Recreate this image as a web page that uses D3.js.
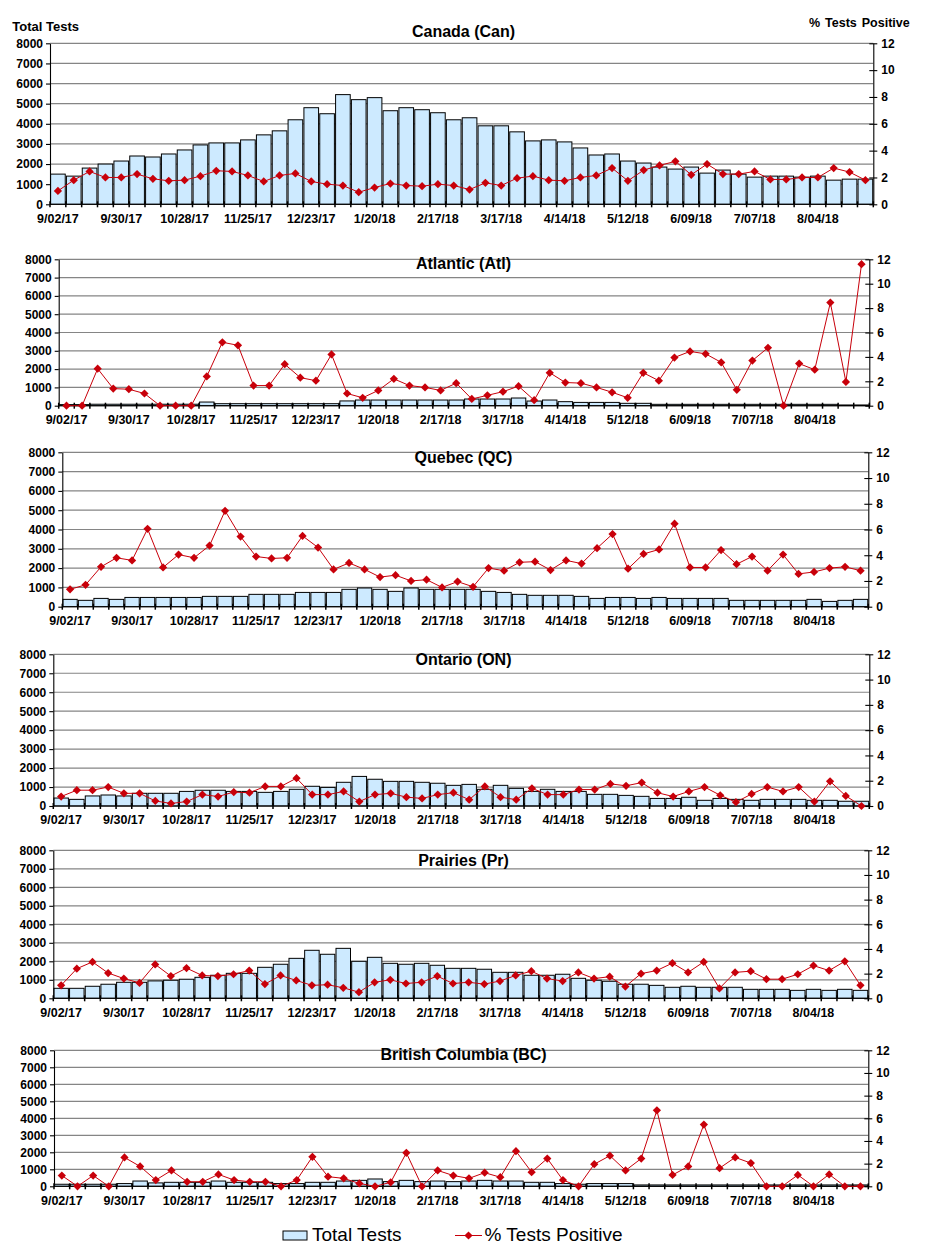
<!DOCTYPE html>
<html><head><meta charset="utf-8">
<script src="https://cdn.jsdelivr.net/npm/d3@7/dist/d3.min.js"></script>
<style>
html,body{margin:0;padding:0;background:#fff;}
svg text{font-family:"Liberation Sans",Arial,Helvetica,sans-serif;fill:#000;}
</style></head><body>
<svg id="chart" width="926" height="1257"></svg>
<script>
// ---------- DATA ----------
const categories = ["9/02/17","9/09/17","9/16/17","9/23/17","9/30/17","10/07/17","10/14/17","10/21/17","10/28/17","11/04/17","11/11/17","11/18/17","11/25/17","12/02/17","12/09/17","12/16/17","12/23/17","12/30/17","1/06/18","1/13/18","1/20/18","1/27/18","2/03/18","2/10/18","2/17/18","2/24/18","3/03/18","3/10/18","3/17/18","3/24/18","3/31/18","4/07/18","4/14/18","4/21/18","4/28/18","5/05/18","5/12/18","5/19/18","5/26/18","6/02/18","6/09/18","6/16/18","6/23/18","6/30/18","7/07/18","7/14/18","7/21/18","7/28/18","8/04/18","8/11/18","8/18/18","8/25/18"];
const shownLabels = ["9/02/17","9/30/17","10/28/17","11/25/17","12/23/17","1/20/18","2/17/18","3/17/18","4/14/18","5/12/18","6/09/18","7/07/18","8/04/18"];
const testTicks = [0,1000,2000,3000,4000,5000,6000,7000,8000];
const pctTicks = [0,2,4,6,8,10,12];
const panelTitles = ["Canada (Can)","Atlantic (Atl)","Quebec (QC)","Ontario (ON)","Prairies (Pr)","British Columbia (BC)"];
const seriesNames = ["Total Tests","% Tests Positive"];

const canTests = [1500,1400,1800,2000,2150,2400,2350,2500,2700,2950,3050,3050,3200,3450,3650,4200,4800,4500,5450,5200,5300,4650,4800,4700,4550,4200,4300,3900,3900,3600,3150,3200,3100,2800,2450,2500,2150,2050,1850,1750,1850,1550,1700,1500,1350,1400,1400,1350,1400,1200,1250,1250];
const canPct = [1.0,1.8,2.45,2.0,2.0,2.25,1.9,1.75,1.8,2.1,2.5,2.45,2.15,1.7,2.15,2.3,1.7,1.5,1.4,0.9,1.25,1.55,1.4,1.35,1.5,1.4,1.1,1.6,1.4,1.95,2.1,1.8,1.75,2.0,2.15,2.7,1.75,2.55,2.9,3.2,2.2,3.0,2.25,2.25,2.45,1.85,1.85,2.0,2.0,2.7,2.4,1.8];

const atlTests = [60,60,80,80,80,80,80,80,80,200,110,110,110,110,110,110,110,110,260,310,310,310,310,310,310,310,365,365,365,420,255,310,220,180,180,180,130,130,75,75,75,75,75,75,75,75,75,75,75,75,40,40];
const atlPct = [0,0,3.03,1.4,1.35,1.0,0,0,0,2.4,5.2,4.95,1.65,1.65,3.4,2.3,2.05,4.2,1.0,0.65,1.25,2.2,1.65,1.5,1.25,1.85,0.55,0.85,1.15,1.6,0.45,2.7,1.9,1.85,1.5,1.1,0.65,2.7,2.05,3.95,4.45,4.25,3.55,1.3,3.7,4.75,0,3.45,2.95,8.45,1.95,11.6];

const qcTests = [380,330,430,380,480,480,480,480,480,535,535,535,640,640,640,740,740,740,900,970,900,795,970,900,900,900,900,795,740,640,590,590,590,535,430,480,480,430,480,430,430,430,430,330,330,330,330,330,380,275,330,380];
const qcPct = [1.35,1.7,3.1,3.8,3.6,6.05,3.05,4.05,3.8,4.75,7.45,5.45,3.9,3.75,3.8,5.5,4.6,2.9,3.4,2.9,2.3,2.45,2.0,2.1,1.5,1.95,1.55,3.0,2.8,3.45,3.5,2.85,3.6,3.35,4.55,5.65,2.95,4.1,4.45,6.45,3.05,3.05,4.4,3.3,3.9,2.8,4.05,2.55,2.7,3.0,3.1,2.8];

const onTests = [420,350,530,580,530,670,670,670,770,830,830,770,770,720,770,880,1040,980,1250,1560,1410,1300,1300,1250,1200,1090,1140,880,1090,930,770,880,770,770,615,615,560,510,400,400,460,300,400,350,300,350,350,350,300,300,250,250];
const onPct = [0.75,1.25,1.25,1.5,1.0,1.0,0.4,0.2,0.35,0.9,0.75,1.1,1.05,1.55,1.55,2.2,0.9,0.9,1.15,0.35,0.9,1.0,0.7,0.6,0.9,1.05,0.5,1.55,0.7,0.5,1.4,0.9,0.9,1.3,1.3,1.75,1.6,1.85,1.05,0.75,1.15,1.5,0.85,0.3,0.95,1.5,1.15,1.5,0.35,1.95,0.8,0];

const prTests = [540,540,650,760,865,865,940,975,1030,1135,1245,1350,1350,1675,1840,2160,2595,2380,2700,2000,2215,1890,1840,1890,1785,1620,1620,1570,1405,1405,1245,1245,1300,1080,975,920,760,760,700,595,650,595,595,595,485,485,485,430,485,430,485,430];
const prPct = [1.05,2.4,2.95,2.05,1.6,1.25,2.75,1.8,2.45,1.85,1.8,1.95,2.25,1.15,1.85,1.45,1.05,1.1,0.85,0.5,1.3,1.5,1.2,1.3,1.8,1.2,1.3,1.15,1.4,1.85,2.2,1.6,1.4,2.1,1.6,1.75,0.95,2.0,2.25,2.85,2.1,2.95,0.8,2.1,2.2,1.55,1.55,1.95,2.65,2.25,3.0,1.05];

const bcTests = [120,120,120,120,160,310,200,235,235,235,310,235,235,235,160,160,235,235,310,350,430,275,350,275,310,275,310,350,310,310,235,235,160,120,160,160,160,80,80,80,80,80,80,80,80,80,80,80,80,80,80,80];
const bcPct = [0.95,0,0.95,0,2.55,1.75,0.55,1.4,0.4,0.4,1.05,0.55,0.4,0.4,0,0.55,2.6,0.85,0.7,0.25,0,0.35,2.95,0,1.4,0.95,0.7,1.2,0.8,3.1,1.25,2.45,0.55,0,1.95,2.7,1.4,2.45,6.7,1.0,1.75,5.45,1.6,2.55,2.05,0,0,1.0,0,1.05,0,0];

const testsSeries = [canTests, atlTests, qcTests, onTests, prTests, bcTests];
const pctSeries = [canPct, atlPct, qcPct, onPct, prPct, bcPct];

// ---------- LAYOUT ----------
const panelLayout = [
  {l:50,   r:873.3, t:43.3,   b:204.3,  ty:37.2},
  {l:58.7, r:869.3, t:259.3,  b:405.7,  ty:268.7},
  {l:62.3, r:868.3, t:452.3,  b:606.7,  ty:462.5},
  {l:53.3, r:869.3, t:654.3,  b:806,    ty:665},
  {l:53.3, r:868.3, t:850.3,  b:998.3,  ty:866.3},
  {l:54,   r:868.3, t:1050.3, b:1186.3, ty:1060}
];
const BAR_FILL = "#cdeaff";
const LINE_COL = "#c8000a";
const GRID_COL = "#858585";

const svg = d3.select("#chart");
const diamond = d3.symbol().type(d3.symbolSquare).size(34);

panelTitles.forEach((title, pi) => {
  const L = panelLayout[pi];
  const tests = testsSeries[pi], pct = pctSeries[pi];
  const g = svg.append("g");
  const x = d3.scaleBand().domain(categories).range([L.l, L.r]).paddingInner(0.075).paddingOuter(0.0375);
  const yL = d3.scaleLinear().domain([0, 8000]).range([L.b, L.t]);
  const yR = d3.scaleLinear().domain([0, 12]).range([L.b, L.t]);
  const cx = c => x(c) + x.bandwidth() / 2;

  // gridlines
  g.append("g").selectAll("line").data(testTicks.filter(v => v > 0)).join("line")
    .attr("x1", L.l).attr("x2", L.r).attr("y1", d => yL(d)).attr("y2", d => yL(d))
    .attr("stroke", GRID_COL).attr("stroke-width", 1.2);

  // bars
  g.append("g").selectAll("rect").data(categories).join("rect")
    .attr("x", c => x(c)).attr("width", x.bandwidth())
    .attr("y", (c, i) => yL(tests[i])).attr("height", (c, i) => L.b - yL(tests[i]))
    .attr("fill", BAR_FILL).attr("stroke", "#000").attr("stroke-width", 1);

  // left axis
  const axL = g.append("g").attr("transform", `translate(${L.l},0)`)
    .call(d3.axisLeft(yL).tickValues(testTicks).tickFormat(d3.format("d")).tickSize(4).tickSizeOuter(0).tickPadding(3));
  // right axis
  const axR = g.append("g").attr("transform", `translate(${L.r},0)`)
    .call(d3.axisRight(yR).tickValues(pctTicks).tickFormat(d3.format("d")).tickSize(4).tickSizeOuter(0).tickPadding(4));
  axR.selectAll(".tick line").attr("x1", -4);
  // bottom axis (labels only)
  const axB = g.append("g").attr("transform", `translate(0,${L.b})`)
    .call(d3.axisBottom(x).tickValues(shownLabels).tickSize(0).tickPadding(9.5));
  axB.select(".domain").attr("d", `M${L.l},0H${L.r}`);
  [axL, axR, axB].forEach(a => {
    a.selectAll("text").attr("font-size", 12).attr("font-weight", "bold").attr("fill", "#000");
    a.selectAll("line,path").attr("stroke", "#000").attr("stroke-width", 1.1);
  });
  axB.selectAll("text").attr("font-size", 12.5);

  // category boundary ticks
  const bounds = categories.map(c => x(c) - x.step() * x.paddingInner() / 2).concat([L.r]);
  g.append("g").selectAll("line").data(bounds).join("line")
    .attr("x1", d => d).attr("x2", d => d).attr("y1", L.b - 3).attr("y2", L.b + 3)
    .attr("stroke", "#000").attr("stroke-width", 1.5);

  // line series
  g.append("path").datum(pct)
    .attr("d", d3.line().x((v, i) => cx(categories[i])).y(v => yR(v)))
    .attr("fill", "none").attr("stroke", LINE_COL).attr("stroke-width", 1);
  g.append("g").selectAll("path").data(pct).join("path")
    .attr("d", diamond)
    .attr("transform", (v, i) => `translate(${cx(categories[i])},${yR(v)}) rotate(45)`)
    .attr("fill", LINE_COL);

  // title
  svg.append("text").attr("x", 463.5).attr("y", L.ty).attr("text-anchor", "middle")
    .attr("font-size", 16).attr("font-weight", "bold").text(title);
});

// axis headers
svg.append("text").attr("x", 12.3).attr("y", 30.7).attr("font-size", 13).attr("font-weight", "bold").text("Total Tests");
svg.append("text").attr("x", 809).attr("y", 27.3).attr("font-size", 12.5).attr("font-weight", "bold").attr("word-spacing", 1.5).text("% Tests Positive");

// legend
const lg = svg.append("g");
lg.append("rect").attr("x", 283).attr("y", 1231).attr("width", 24).attr("height", 9)
  .attr("fill", BAR_FILL).attr("stroke", "#000").attr("stroke-width", 1);
lg.append("text").attr("x", 312).attr("y", 1240.5).attr("font-size", 19).text(seriesNames[0]);
lg.append("line").attr("x1", 455).attr("x2", 482).attr("y1", 1235.5).attr("y2", 1235.5)
  .attr("stroke", LINE_COL).attr("stroke-width", 1);
lg.append("path").attr("d", diamond).attr("transform", "translate(468.5,1235.5) rotate(45)").attr("fill", LINE_COL);
lg.append("text").attr("x", 484.5).attr("y", 1240.5).attr("font-size", 19).text(seriesNames[1]);
</script>
</body></html>
